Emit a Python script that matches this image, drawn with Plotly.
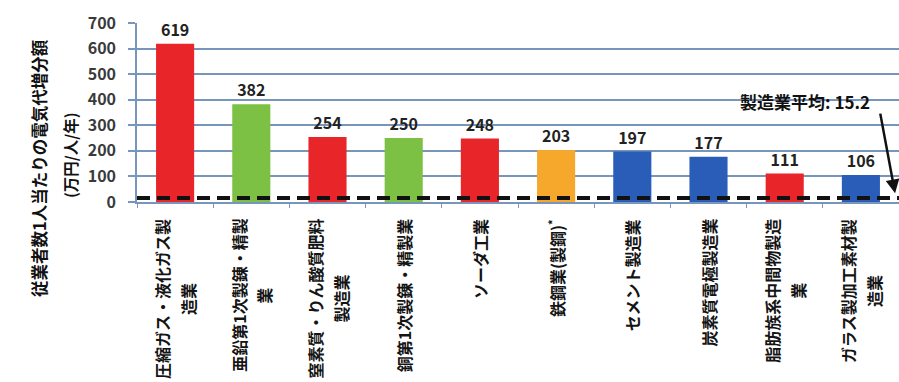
import plotly.graph_objects as go

# Industries (full names) and the wrapped lines shown under each bar
categories = [
    "圧縮ガス・液化ガス製造業",
    "亜鉛第1次製錬・精製業",
    "窒素質・りん酸質肥料製造業",
    "銅第1次製錬・精製業",
    "ソーダ工業",
    "鉄鋼業(製鋼)*",
    "セメント製造業",
    "炭素質電極製造業",
    "脂肪族系中間物製造業",
    "ガラス製加工素材製造業",
]
label_lines = [
    ["圧縮ガス・液化ガス製", "造業"],
    ["亜鉛第1次製錬・精製", "業"],
    ["窒素質・りん酸質肥料", "製造業"],
    ["銅第1次製錬・精製業"],
    ["ソーダ工業"],
    ["鉄鋼業(製鋼)<sup>*</sup>"],
    ["セメント製造業"],
    ["炭素質電極製造業"],
    ["脂肪族系中間物製造", "業"],
    ["ガラス製加工素材製", "造業"],
]
values = [619, 382, 254, 250, 248, 203, 197, 177, 111, 106]
bar_colors = ["#e8262a", "#7cc143", "#e8262a", "#7cc143", "#e8262a",
              "#f5a82c", "#2a5db8", "#2a5db8", "#e8262a", "#2a5db8"]
manufacturing_avg = 15.2
avg_label = "製造業平均: 15.2"
y_ticks = [0, 100, 200, 300, 400, 500, 600, 700]
y_title_lines = ["従業者数1人当たりの電気代増分額", "(万円/人/年)"]

FONT = "Noto Sans CJK JP"
W, H = 899, 382
ML, MR, MT, MB = 137, 0, 23, 180
PW, PH = W - ML - MR, H - MT - MB
GRID = "#7896bc"


def paper_x(px):
    return (px - ML) / PW


def paper_y(py):
    return (H - MB - py) / PH


def text_len(s):
    # rough advance in em units: full-width glyphs 1em, ASCII ~0.55em
    s = s.replace("<sup>", "").replace("</sup>", "")
    return sum(0.55 if ord(c) < 128 else 1.0 for c in s)


fig = go.Figure()
fig.add_trace(go.Bar(
    x=categories,
    y=values,
    marker=dict(color=bar_colors, line=dict(width=0)),
    text=[str(v) for v in values],
    textposition="outside",
    textfont=dict(family=FONT, size=16, color="#222222", weight="bold"),
    cliponaxis=False,
    width=0.5,
))

# manufacturing average as a thick dashed line across the plot
fig.add_shape(type="line", xref="paper", x0=0, x1=1, yref="y",
              y0=manufacturing_avg, y1=manufacturing_avg,
              line=dict(color="#111111", width=4, dash="13px,7px"),
              layer="above")

annotations = []

# category labels, rotated, lines centred on the first line
lab_font = 16
for cat, lines in zip(categories, label_lines):
    n = len(lines)
    shifts = [0] if n == 1 else [-13, 13]
    first_len = text_len(lines[0]) * lab_font
    for line, xs in zip(lines, shifts):
        offset = (first_len - text_len(line) * lab_font) / 2
        annotations.append(dict(
            x=cat, xref="x", y=0, yref="paper",
            text=line, textangle=-90, showarrow=False,
            xanchor="center", yanchor="top",
            xshift=xs, yshift=-15 - offset,
            font=dict(family=FONT, size=lab_font, color="#141414", weight="bold"),
        ))

# y-axis title (two lines)
annotations.append(dict(
    x=paper_x(39), y=paper_y(168), xref="paper", yref="paper",
    text=y_title_lines[0], textangle=-90, showarrow=False,
    xanchor="center", yanchor="middle",
    font=dict(family=FONT, size=16.5, color="#111111", weight="bold"),
))
annotations.append(dict(
    x=paper_x(70), y=paper_y(155), xref="paper", yref="paper",
    text=y_title_lines[1], textangle=-90, showarrow=False,
    xanchor="center", yanchor="middle",
    font=dict(family=FONT, size=15.5, color="#111111", weight="bold"),
))

# average label and arrow pointing down to the dashed line
annotations.append(dict(
    x=paper_x(805), y=paper_y(101), xref="paper", yref="paper",
    text=avg_label, showarrow=False, xanchor="center", yanchor="middle",
    font=dict(family=FONT, size=17, color="#111111", weight="bold"),
))
annotations.append(dict(
    x=paper_x(896), y=manufacturing_avg, xref="paper", yref="y",
    text="", showarrow=True, ax=-16, ay=-86,
    arrowhead=2, arrowsize=1.1, arrowwidth=2.5, arrowcolor="#111111",
    standoff=5,
))

fig.update_layout(
    width=W, height=H,
    margin=dict(l=ML, r=MR, t=MT, b=MB, autoexpand=False),
    paper_bgcolor="white", plot_bgcolor="white",
    showlegend=False,
    bargap=0.5,
    annotations=annotations,
    font=dict(family=FONT),
)
fig.update_xaxes(
    showticklabels=False, showgrid=False,
    showline=True, linecolor=GRID, linewidth=1.5,
    ticks="outside", tickson="boundaries", ticklen=4, tickcolor=GRID,
    automargin=False,
)
fig.update_yaxes(
    range=[0, 700], tickvals=y_ticks,
    showgrid=True, gridcolor=GRID, gridwidth=1.5,
    showline=True, linecolor=GRID, linewidth=1.5,
    ticks="outside", ticklen=7, tickcolor=GRID, tickwidth=1.5,
    ticklabelstandoff=9,
    tickfont=dict(family=FONT, size=16, color="#3a3a3a", weight="bold"),
    zeroline=False, automargin=False,
)

fig.write_html("out.html")
